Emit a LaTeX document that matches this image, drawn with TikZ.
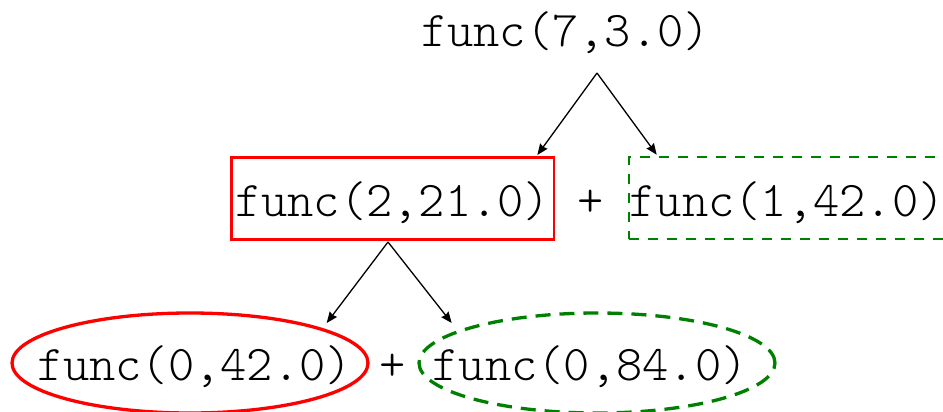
\documentclass[tikz,border=0pt]{standalone}
\usetikzlibrary{arrows.meta,shapes.geometric}
\definecolor{dgreen}{RGB}{0,128,0}
\tikzset{
  txt/.style={inner sep=0pt, anchor=base, font=\ttfamily\fontseries{l}\fontsize{50}{60}\selectfont},
  redbox/.style={draw=red, line width=2.6pt, inner sep=0pt, minimum width=322.5pt, minimum height=82pt},
  greenbox/.style={draw=dgreen, line width=2.6pt, dash pattern=on 10pt off 9pt, inner sep=0pt, minimum width=340pt, minimum height=82pt},
  redell/.style={ellipse, draw=red, line width=3.3pt, inner sep=0pt, minimum width=356pt, minimum height=100pt},
  greenell/.style={ellipse, draw=dgreen, line width=3.3pt, dash pattern=on 15pt off 9pt, inner sep=0pt, minimum width=356pt, minimum height=100pt},
  arr/.style={line width=1.3pt, -{Stealth[length=11pt,width=9pt,inset=1pt]}}
}
\begin{document}
\begin{tikzpicture}[x=1pt,y=-1pt]
\clip (0,0) rectangle (943,412);
\fill[white] (0,0) rectangle (943,412);
% top
\node[txt] (top) at (565.5,47) {func(7,3.0)};
% row 2
\node[redbox] (r2) at (392.8,198.3) {};
\node[txt] (r2t) at (392.5,216) {func(2,21.0)};
\node[txt] (plus2) at (590.7,216) {+};
\node[greenbox, anchor=west] (g2) at (627.7,198) {};
\node[txt] (g2t) at (787,216) {func(1,42.0)};
% row 3
\node[redell] (r3) at (190,363) {};
\node[txt] (r3t) at (194.5,380) {func(0,42.0)};
\node[txt] (plus3) at (393,380) {+};
\node[greenell] (g3) at (597,363) {};
\node[txt] (g3t) at (590,380) {func(0,84.0)};
% arrows
\coordinate (s1) at (597,73);
\coordinate (s2) at (388,242);
\coordinate (e1) at (326.7,323);
\coordinate (e2) at (451.7,323);
\draw[arr] (s1) -- ([xshift=-18pt,yshift=1pt]r2.north east);
\draw[arr] (s1) -- ([xshift=29pt,yshift=1pt]g2.north west);
\draw[arr] (s2) -- (e1);
\draw[arr] (s2) -- (e2);
\end{tikzpicture}
\end{document}
